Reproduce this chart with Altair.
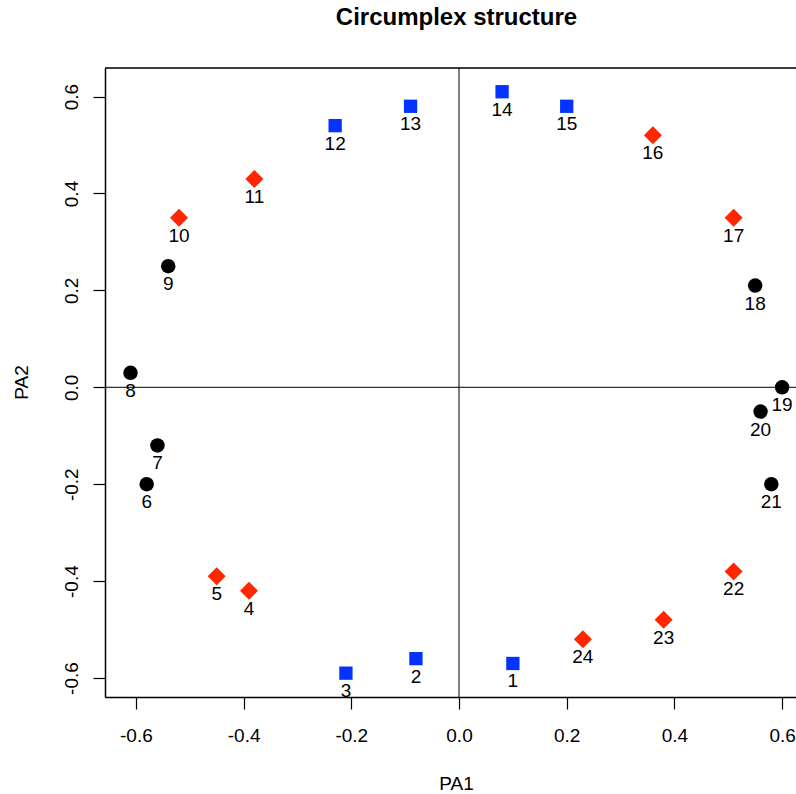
import altair as alt
import pandas as pd

ids = [str(i) for i in range(1, 25)]
pa1 = [0.10, -0.08, -0.21, -0.39, -0.45, -0.58, -0.56, -0.61, -0.54, -0.52, -0.38, -0.23,
       -0.09, 0.08, 0.20, 0.36, 0.51, 0.55, 0.60, 0.56, 0.58, 0.51, 0.38, 0.23]
pa2 = [-0.57, -0.56, -0.59, -0.42, -0.39, -0.20, -0.12, 0.03, 0.25, 0.35, 0.43, 0.54,
       0.58, 0.61, 0.58, 0.52, 0.35, 0.21, 0.00, -0.05, -0.20, -0.38, -0.48, -0.52]
groups = ["blue", "blue", "blue", "red", "red", "black", "black", "black", "black", "red",
          "red", "blue", "blue", "blue", "blue", "red", "red", "black", "black", "black",
          "black", "red", "red", "red"]
tick_values = [-0.6, -0.4, -0.2, 0.0, 0.2, 0.4, 0.6]
zero = [0.0]

group_domain = ["black", "blue", "red"]
group_colors = ["#000000", "#0433FF", "#FF2600"]
group_shapes = ["circle", "square", "M-1,0L0,-1L1,0L0,1Z"]
group_sizes = [210, 177, 324]

df = pd.DataFrame({"id": ids, "PA1": pa1, "PA2": pa2, "group": groups})
zdf = pd.DataFrame({"z": zero})

FONT = "Liberation Sans"
xscale = alt.Scale(domain=[-0.6574, 0.6258], nice=False, zero=False)
yscale = alt.Scale(domain=[-0.6392, 0.659], nice=False, zero=False)
lbl = "replace(format(datum.value, '.1f'), '\u2212', '-')"

xaxis = alt.Axis(values=tick_values, labelExpr=lbl, tickSize=12, tickWidth=1.2, tickColor="black",
                 domainColor="black", domainWidth=1.5, labelFont=FONT, labelFontSize=19,
                 labelColor="black", labelPadding=17, labelBaseline="top", labelFlush=False,
                 labelOverlap=False, grid=False, title="PA1", titleFont=FONT, titleFontSize=19,
                 titleFontWeight="normal", titleColor="black", titleX=351, titleY=92,
                 titleBaseline="alphabetic", titleAlign="center")
yaxis = alt.Axis(values=tick_values, labelExpr=lbl, tickSize=12, tickWidth=1.2, tickColor="black",
                 domainColor="black", domainWidth=1.5, labelFont=FONT, labelFontSize=19,
                 labelColor="black", labelPadding=12, labelAngle=270, labelAlign="center",
                 labelBaseline="bottom", labelFlush=False, labelOverlap=False, grid=False,
                 title="PA2", titleFont=FONT, titleFontSize=19, titleFontWeight="normal",
                 titleColor="black", titleAngle=270, titleX=-78, titleY=314,
                 titleBaseline="alphabetic", titleAlign="center")

hline = alt.Chart(zdf).mark_rule(color="black", strokeWidth=1).encode(
    y=alt.Y("z:Q", scale=yscale, axis=yaxis))
vline = alt.Chart(zdf).mark_rule(color="black", strokeWidth=1).encode(
    x=alt.X("z:Q", scale=xscale, axis=xaxis))
top = alt.Chart(zdf).mark_rule(color="black", strokeWidth=1.5).encode(y=alt.value(0))

point_layers = []
for g, c, s, sz in zip(group_domain, group_colors, group_shapes, group_sizes):
    point_layers.append(
        alt.Chart(df).transform_filter(alt.datum.group == g)
        .mark_point(filled=True, opacity=1, strokeWidth=0, color=c, shape=s, size=sz)
        .encode(
            x=alt.X("PA1:Q", scale=xscale, axis=xaxis),
            y=alt.Y("PA2:Q", scale=yscale, axis=yaxis),
        )
    )

labels = alt.Chart(df).mark_text(dy=24, baseline="alphabetic", fontSize=19, font=FONT,
                                 color="black", clip=True).encode(
    x=alt.X("PA1:Q", scale=xscale, axis=xaxis),
    y=alt.Y("PA2:Q", scale=yscale, axis=yaxis),
    text="id:N",
)

chart = alt.layer(hline, vline, top, *point_layers, labels).properties(
    width=691, height=629,
    title=alt.TitleParams("Circumplex structure", fontSize=24, fontWeight="bold", font=FONT,
                          color="black", anchor="middle", offset=18, baseline="alphabetic", dx=6),
    padding={"left": 105, "top": 68, "right": 0, "bottom": 97},
    autosize="none",
).configure_view(stroke=None).configure(background="white")

chart.save("out.html", embed_options={"renderer": "svg", "actions": False})
